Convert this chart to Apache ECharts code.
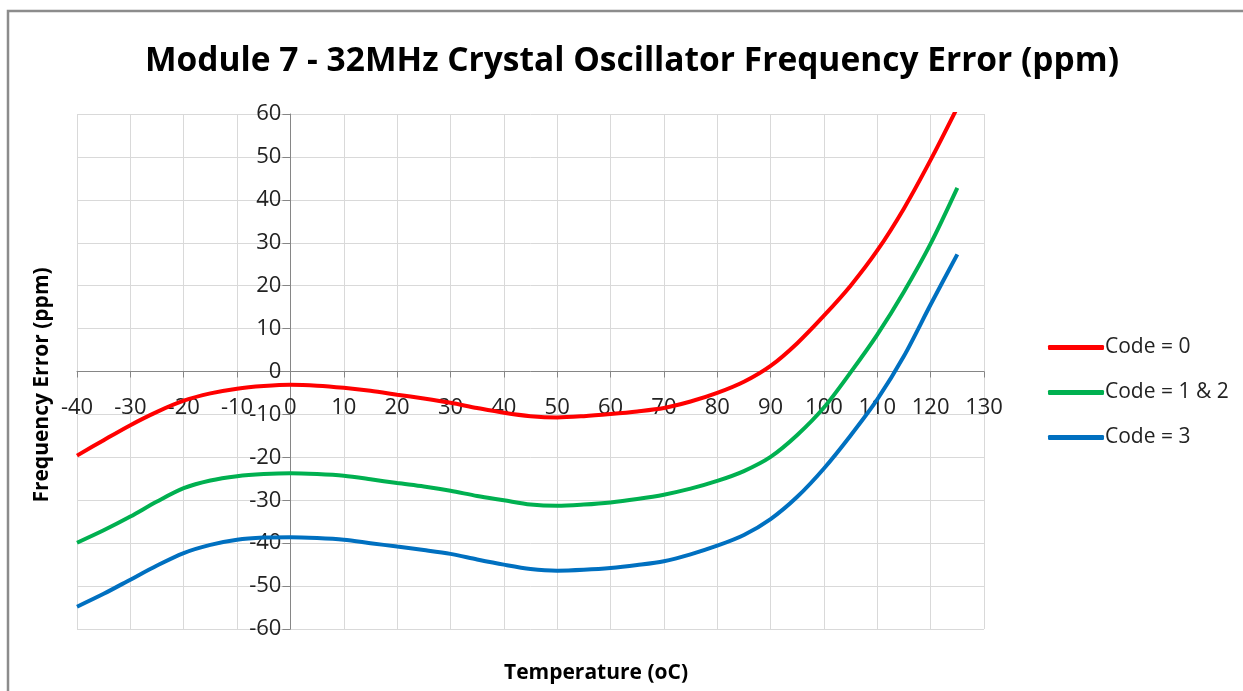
<!DOCTYPE html>
<html>
<head>
<meta charset="utf-8">
<script src="https://cdn.jsdelivr.net/npm/echarts@6/dist/echarts.min.js"></script>
<style>html,body{margin:0;padding:0;background:#fff;}#c{width:1243px;height:691px;}</style>
</head>
<body>
<div id="c"></div>
<script>
var temps = [-40, -35, -30, -25, -20, -15, -10, -5, 0, 5, 10, 15, 20, 25, 30, 35, 40, 45, 50, 55, 60, 65, 70, 75, 80, 85, 90, 95, 100, 105, 110, 115, 120, 125];
var code0 = [-19.6, -16.0, -12.5, -9.4, -6.8, -5.1, -4.0, -3.4, -3.1, -3.3, -3.8, -4.5, -5.4, -6.3, -7.3, -8.5, -9.6, -10.4, -10.7, -10.4, -9.9, -9.3, -8.5, -7.0, -5.0, -2.4, 1.3, 6.6, 13.0, 20.0, 28.2, 38.0, 49.3, 61.5];
var code12 = [-39.9, -37.0, -33.8, -30.3, -27.2, -25.4, -24.4, -23.9, -23.7, -23.9, -24.3, -25.1, -26.0, -26.8, -27.8, -29.0, -30.0, -31.0, -31.3, -31.0, -30.5, -29.7, -28.7, -27.3, -25.5, -23.2, -19.9, -14.8, -8.4, -0.2, 8.6, 18.6, 29.8, 42.8];
var code3 = [-54.8, -51.8, -48.5, -45.2, -42.3, -40.4, -39.2, -38.7, -38.6, -38.8, -39.2, -40.0, -40.8, -41.6, -42.5, -43.8, -45.0, -46.0, -46.4, -46.2, -45.8, -45.1, -44.2, -42.6, -40.6, -38.1, -34.4, -29.2, -22.6, -14.9, -6.5, 3.6, 15.6, 27.3];
var seriesNames = ['Code = 0', 'Code = 1 & 2', 'Code = 3'];
var xTicks = {min: -40, max: 130, interval: 10};
var yTicks = {min: -60, max: 60, interval: 10};

function pairs(vals) { return temps.map(function (t, i) { return [t, vals[i]]; }); }

var FONT = 'Open Sans';
var W = 1243, H = 691;
var G = {left: 77, right: 259, top: 114, bottom: 62};
var gw = W - G.left - G.right, gh = H - G.top - G.bottom;
// shift axes so they cross at (0,0) of the data
var yAxisOffset = -gw * (0 - xTicks.min) / (xTicks.max - xTicks.min);
var xAxisOffset = -gh * (0 - yTicks.min) / (yTicks.max - yTicks.min);

var chart = echarts.init(document.getElementById('c'));
chart.setOption({
  backgroundColor: '#ffffff',
  animation: false,
  title: {
    text: 'Module 7 - 32MHz Crystal Oscillator Frequency Error (ppm)',
    left: 140, top: 39,
    textStyle: {fontFamily: FONT, fontSize: 33.5, fontWeight: 'bold', color: '#000'}
  },
  grid: {left: G.left, right: G.right, top: G.top, bottom: G.bottom, containLabel: false},
  legend: {
    orient: 'vertical', left: 1043, top: 332,
    itemWidth: 56, itemHeight: 5, itemGap: 24,
    icon: 'roundRect',
    textStyle: {fontFamily: FONT, fontSize: 21, color: '#222', padding: [0, 0, 0, -4]},
    data: seriesNames
  },
  xAxis: {
    type: 'value', position: 'bottom', offset: xAxisOffset,
    min: xTicks.min, max: xTicks.max, interval: xTicks.interval,
    axisLine: {onZero: false, lineStyle: {color: '#868686', width: 1}},
    axisTick: {show: true, length: 6, lineStyle: {color: '#868686'}},
    axisLabel: {fontFamily: FONT, fontSize: 22, color: '#222', margin: 25},
    splitLine: {show: true, lineStyle: {color: '#d9d9d9', width: 1}}
  },
  yAxis: {
    type: 'value', position: 'left', offset: yAxisOffset,
    min: yTicks.min, max: yTicks.max, interval: yTicks.interval,
    axisLine: {show: true, onZero: false, lineStyle: {color: '#868686', width: 1}},
    axisTick: {show: true, length: 8, lineStyle: {color: '#868686'}},
    axisLabel: {fontFamily: FONT, fontSize: 22, color: '#222', margin: 9},
    splitLine: {show: true, lineStyle: {color: '#d9d9d9', width: 1}}
  },
  series: [
    {name: seriesNames[0], type: 'line', smooth: 0.3, showSymbol: false, clip: true,
     data: pairs(code0), itemStyle: {color: '#ff0000'}, lineStyle: {color: '#ff0000', width: 4}},
    {name: seriesNames[1], type: 'line', smooth: 0.3, showSymbol: false, clip: true,
     data: pairs(code12), itemStyle: {color: '#00b050'}, lineStyle: {color: '#00b050', width: 4}},
    {name: seriesNames[2], type: 'line', smooth: 0.3, showSymbol: false, clip: true,
     data: pairs(code3), itemStyle: {color: '#0070c0'}, lineStyle: {color: '#0070c0', width: 4}}
  ],
  graphic: [
    {type: 'rect', silent: true, z: -1, shape: {x: 8, y: 11, width: 1260, height: 700},
     style: {fill: 'none', stroke: '#8c8c8c', lineWidth: 2.5}},
    {type: 'text', x: 596, y: 673,
     style: {text: 'Temperature (oC)', font: 'bold 21px "Open Sans"', fill: '#000',
             textAlign: 'center', textVerticalAlign: 'middle'}},
    {type: 'text', x: 42, y: 385, rotation: Math.PI / 2,
     style: {text: 'Frequency Error (ppm)', font: 'bold 21px "Open Sans"', fill: '#000',
             textAlign: 'center', textVerticalAlign: 'middle'}}
  ]
});
</script>
</body>
</html>
